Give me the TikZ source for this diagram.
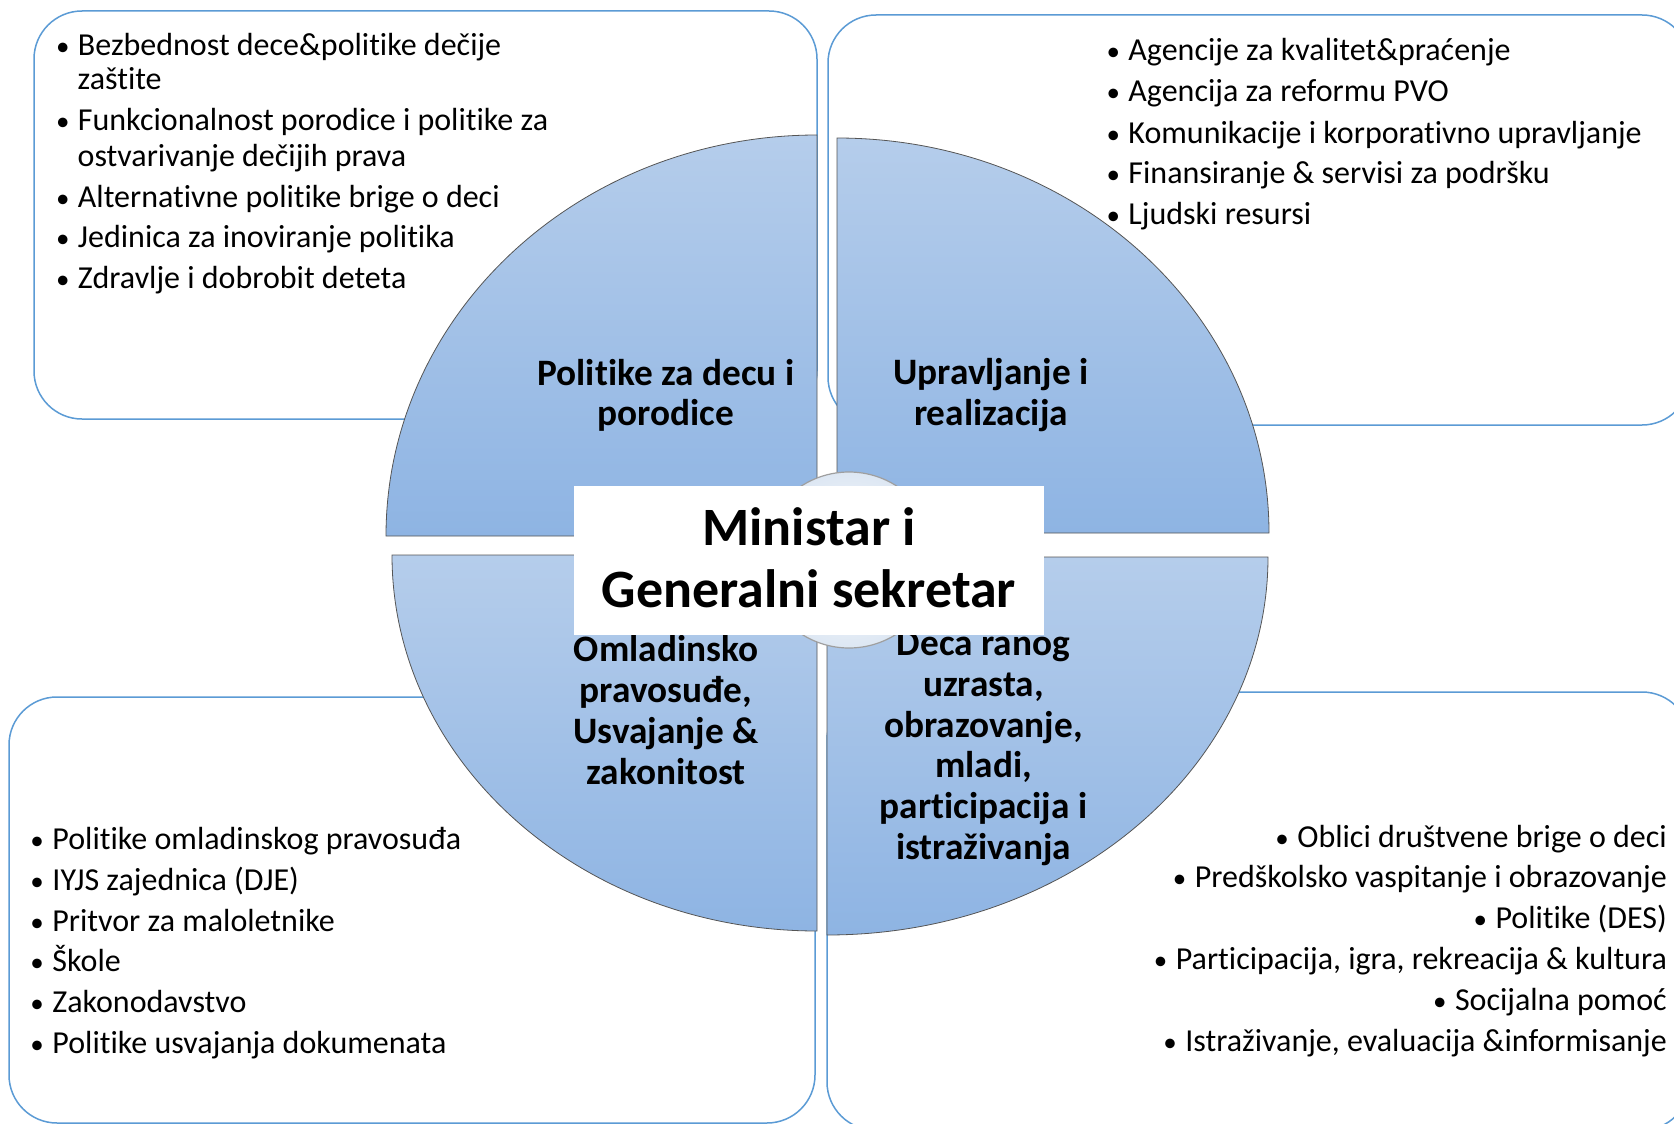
\documentclass[tikz,border=0pt]{standalone}
\usepackage{fontspec}
\setmainfont[Ligatures=NoCommon]{Carlito}
\definecolor{boxblue}{RGB}{91,155,213}
\definecolor{pietop}{RGB}{181,205,235}
\definecolor{piebot}{RGB}{142,180,227}
\definecolor{pieline}{RGB}{85,85,85}
\definecolor{hubfill}{RGB}{221,231,243}
\newcommand\mybul{{\fontsize{27}{35}\selectfont\textbullet}\hspace{8.5pt}}
\begin{document}
\begin{tikzpicture}[x=1pt,y=1pt,
  panel/.style={draw=boxblue, line width=1.5pt, rounded corners=48pt, fill=white},
  quarter/.style={draw=pieline, line width=0.8pt, top color=pietop, bottom color=piebot},
  itm/.style={inner sep=0pt, anchor=base west, font=\fontsize{32}{35}\selectfont},
  itmr/.style={inner sep=0pt, anchor=base east, font=\fontsize{32}{35}\selectfont},
  lbl/.style={inner sep=0pt, anchor=base, font=\fontsize{37.3}{40}\selectfont\bfseries},
  ttl/.style={inner sep=0pt, anchor=base, font=\fontsize{54}{62}\selectfont\bfseries}]
\useasboundingbox (0,0) rectangle (1674,-1124);
\clip (0,0) rectangle (1674,-1124);
\fill[white] (0,0) rectangle (1674,-1124);

% panels
\draw[panel] (34,-11) rectangle (817,-419);
\draw[panel] (828,-15) rectangle (1690,-425);
\draw[panel] (9,-697) rectangle (815,-1123);
\draw[panel] (827,-692) rectangle (1690,-1130);

% pie quarters
\draw[quarter] (817,-536) -- (386,-536) arc[start angle=180, end angle=90, x radius=431, y radius=401] -- cycle;
\draw[quarter] (837,-533) -- (837,-138) arc[start angle=90, end angle=0, x radius=432, y radius=395] -- cycle;
\draw[quarter] (817,-555) -- (392,-555) arc[start angle=180, end angle=270, x radius=425, y radius=376] -- cycle;
\draw[quarter] (827,-557) -- (1268,-557) arc[start angle=0, end angle=-90, x radius=441, y radius=378] -- cycle;

% top-left list
\node[itm] (a1) at (55.8,-55.5) {\mybul Bezbednost dece\&politike dečije};
\node[itm] (a1b) at (77.5,-89.6) {zaštite};
\node[itm] (a2) at (55.8,-130.8) {\mybul Funkcionalnost porodice i politike za};
\node[itm] (a2b) at (77.5,-166.7) {ostvarivanje dečijih prava};
\node[itm] (a3) at (55.8,-207) {\mybul Alternativne politike brige o deci};
\node[itm] (a4) at (55.8,-247.5) {\mybul Jedinica za inoviranje politika};
\node[itm] (a5) at (55.8,-288.5) {\mybul Zdravlje i dobrobit deteta};

% top-right list
\node[itm] (b1) at (1106.3,-61) {\mybul Agencije za kvalitet\&praćenje};
\node[itm] (b2) at (1106.3,-102) {\mybul Agencija za reformu PVO};
\node[itm] (b3) at (1106.3,-143) {\mybul Komunikacije i korporativno upravljanje};
\node[itm] (b4) at (1106.3,-183.5) {\mybul Finansiranje \& servisi za podršku};
\node[itm] (b5) at (1106.3,-224) {\mybul Ljudski resursi};

% bottom-left list
\node[itm] (c1) at (30.3,-849) {\mybul Politike omladinskog pravosuđa};
\node[itm] (c2) at (30.3,-890) {\mybul IYJS zajednica (DJE)};
\node[itm] (c3) at (30.3,-931) {\mybul Pritvor za maloletnike};
\node[itm] (c4) at (30.3,-971.5) {\mybul Škole};
\node[itm] (c5) at (30.3,-1012.5) {\mybul Zakonodavstvo};
\node[itm] (c6) at (30.3,-1053.5) {\mybul Politike usvajanja dokumenata};

% bottom-right list
\node[itmr] (d1) at (1667,-847) {\mybul Oblici društvene brige o deci};
\node[itmr] (d2) at (1667,-887.5) {\mybul Predškolsko vaspitanje i obrazovanje};
\node[itmr] (d3) at (1667,-928) {\mybul Politike (DES)};
\node[itmr] (d4) at (1667,-969.5) {\mybul Participacija, igra, rekreacija \& kultura};
\node[itmr] (d5) at (1667,-1010.5) {\mybul Socijalna pomoć};
\node[itmr] (d6) at (1667,-1051) {\mybul Istraživanje, evaluacija \&informisanje};

% quarter labels
\node[lbl] (q1a) at (666,-385) {Politike za decu i};
\node[lbl] (q1b) at (666,-425.5) {porodice};
\node[lbl] (q2a) at (991,-384) {Upravljanje i};
\node[lbl] (q2b) at (991,-425) {realizacija};
\node[lbl] (q3a) at (666,-661) {Omladinsko};
\node[lbl] (q3b) at (666,-702) {pravosuđe,};
\node[lbl] (q3c) at (666,-743) {Usvajanje \&};
\node[lbl] (q3d) at (666,-784) {zakonitost};
\node[lbl] (q4a) at (983.5,-655.5) {Deca ranog};
\node[lbl] (q4b) at (983.5,-696) {uzrasta,};
\node[lbl] (q4c) at (983.5,-737) {obrazovanje,};
\node[lbl] (q4d) at (983.5,-777.5) {mladi,};
\node[lbl] (q4e) at (983.5,-818.5) {participacija i};
\node[lbl] (q4f) at (983.5,-859.5) {istraživanja};

% hub
\draw[draw=gray!75, line width=1.2pt, inner color=white, outer color=hubfill] (849,-560) circle[radius=88];
\fill[white] (574,-486) rectangle (1044,-635);
\node[ttl] (t1) at (809,-545) {Ministar i};
\node[ttl] (t2) at (809,-607) {Generalni sekretar};
\end{tikzpicture}
\end{document}
